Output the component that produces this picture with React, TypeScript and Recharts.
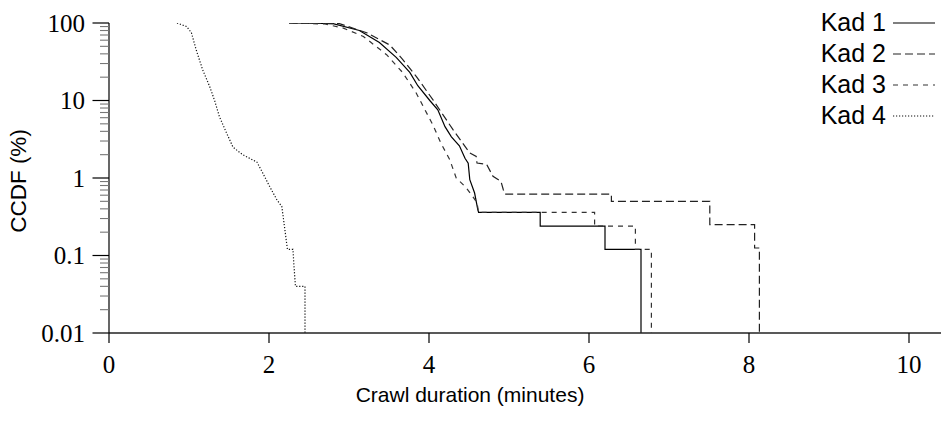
import React from 'react';
import { LineChart, Line, XAxis, YAxis } from 'recharts';

// Crawl duration (minutes) vs. CCDF (%) for four Kademlia crawls
const kad1Minutes = [2.25, 2.5, 2.8, 3.13, 3.38, 3.59, 3.76, 3.86, 4.01, 4.11, 4.2, 4.28, 4.38, 4.45, 4.49, 4.51, 4.57, 4.61, 4.62, 5.39, 5.39, 6.2, 6.2, 6.65, 6.65];
const kad1Ccdf = [100, 99.7, 98, 80, 56, 36, 23, 15.5, 10, 7.6, 4.6, 3.4, 2.6, 1.8, 1.55, 0.95, 0.64, 0.39, 0.36, 0.36, 0.24, 0.24, 0.12, 0.12, 0.01];

const kad2Minutes = [2.25, 2.5, 2.88, 3.22, 3.51, 3.67, 3.84, 4.05, 4.3, 4.51, 4.59, 4.6, 4.72, 4.8, 4.9, 4.93, 4.95, 6.28, 6.28, 7.51, 7.51, 8.07, 8.07, 8.13, 8.13];
const kad2Ccdf = [100, 99.8, 98, 75, 52, 34, 20.5, 10.2, 4.2, 2.1, 1.9, 1.56, 1.5, 1.05, 0.9, 0.7, 0.62, 0.62, 0.5, 0.5, 0.25, 0.25, 0.125, 0.125, 0.01];

const kad3Minutes = [2.3, 2.7, 2.93, 3.18, 3.47, 3.67, 3.84, 4.05, 4.15, 4.26, 4.34, 4.46, 4.53, 4.6, 4.62, 6.07, 6.07, 6.58, 6.58, 6.78, 6.78];
const kad3Ccdf = [100, 97, 86, 67, 39, 23, 12.5, 4.8, 2.8, 1.72, 1.0, 0.76, 0.61, 0.48, 0.36, 0.36, 0.24, 0.24, 0.12, 0.12, 0.01];

const kad4Minutes = [0.85, 0.97, 1.03, 1.09, 1.17, 1.26, 1.32, 1.38, 1.47, 1.55, 1.67, 1.85, 1.92, 2.01, 2.1, 2.16, 2.2, 2.23, 2.3, 2.31, 2.33, 2.45, 2.45];
const kad4Ccdf = [100, 90, 75, 45, 25, 15, 10, 6.2, 3.8, 2.5, 2.0, 1.6, 1.17, 0.77, 0.52, 0.43, 0.21, 0.12, 0.12, 0.08, 0.04, 0.04, 0.01];

const seriesNames = ['Kad 1', 'Kad 2', 'Kad 3', 'Kad 4'];
const xTicks = [0, 2, 4, 6, 8, 10];
const yMajorTicks = [0.01, 0.1, 1, 10, 100];
const yTickLabels = ['0.01', '0.1', '1', '10', '100'];

const toPoints = (xs: number[], ys: number[]) => xs.map((x, i) => ({ x, y: ys[i] }));

const seriesData = [
  toPoints(kad1Minutes, kad1Ccdf),
  toPoints(kad2Minutes, kad2Ccdf),
  toPoints(kad3Minutes, kad3Ccdf),
  toPoints(kad4Minutes, kad4Ccdf),
];

const seriesStyles = [
  { stroke: '#000', dash: undefined as string | undefined, width: 1.2 },
  { stroke: '#222', dash: '8 4', width: 1.2 },
  { stroke: '#333', dash: '5 5', width: 1.2 },
  { stroke: '#111', dash: '1.2 1.8', width: 1.2 },
];

// Log axis ticks: majors at powers of ten, minors at 2..9 of each decade
const yAllTicks: number[] = [];
for (let d = -2; d <= 2; d++) {
  const base = Math.pow(10, d);
  yAllTicks.push(base);
  if (d < 2) {
    for (let m = 2; m <= 9; m++) yAllTicks.push(+(m * base).toPrecision(3));
  }
}

const SERIF = '"Liberation Serif", "DejaVu Serif", serif';
const SANS = '"Liberation Sans", Arial, sans-serif';

const YTick = (props: any) => {
  const { x, y, payload } = props;
  const v = payload.value as number;
  const idx = yMajorTicks.findIndex((m) => Math.abs(m - v) / m < 1e-6);
  if (idx >= 0) {
    return (
      <g>
        <line x1={x - 16.5} x2={x} y1={y} y2={y} stroke="#000" strokeWidth={1.2} />
        <text x={x - 24} y={y} textAnchor="end" dominantBaseline="central" fontFamily={SERIF} fontSize={25} fill="#000">
          {yTickLabels[idx]}
        </text>
      </g>
    );
  }
  return <line x1={x - 9} x2={x} y1={y} y2={y} stroke="#777" strokeWidth={1.1} />;
};

const XTick = (props: any) => {
  const { x, y, payload } = props;
  return (
    <g>
      <line x1={x} x2={x} y1={y} y2={y + 10} stroke="#000" strokeWidth={1.2} />
      <text x={x} y={y + 31} textAnchor="middle" dominantBaseline="central" fontFamily={SERIF} fontSize={25} fill="#000">
        {payload.value}
      </text>
    </g>
  );
};

const YLabel = (props: any) => {
  const vb = props.viewBox || {};
  const cx = (vb.x ?? 0) + 18;
  const cy = (vb.y ?? 0) + (vb.height ?? 0) / 2 + 3;
  return (
    <text x={cx} y={cy} transform={`rotate(-90 ${cx} ${cy})`} textAnchor="middle" dominantBaseline="central" fontFamily={SANS} fontSize={22.5} fill="#000">
      CCDF (%)
    </text>
  );
};

const XLabel = (props: any) => {
  const vb = props.viewBox || {};
  const cx = 470;
  const cy = (vb.y ?? 0) + 61;
  return (
    <text x={cx} y={cy} textAnchor="middle" dominantBaseline="central" fontFamily={SANS} fontSize={21} fill="#000">
      Crawl duration (minutes)
    </text>
  );
};

const LegendBox = () => (
  <div style={{ position: 'absolute', left: 760, top: 7, width: 181 }}>
    {seriesNames.map((name, i) => (
      <div key={name} style={{ display: 'flex', alignItems: 'center', justifyContent: 'flex-end', height: 31, paddingRight: 5 }}>
        <span style={{ fontFamily: SANS, fontSize: 25, color: '#000', lineHeight: '31px' }}>{name}</span>
        <svg width={43} height={10} style={{ marginLeft: 7 }}>
          <line
            x1={0}
            x2={42}
            y1={5}
            y2={5}
            stroke={seriesStyles[i].stroke}
            strokeWidth={seriesStyles[i].width}
            strokeDasharray={seriesStyles[i].dash}
          />
        </svg>
      </div>
    ))}
  </div>
);

export default function App() {
  return (
    <div style={{ position: 'absolute', left: 0, top: 0, width: 941, height: 424, background: '#fff' }}>
      <LineChart width={941} height={424} data={seriesData[0]} margin={{ top: 23, right: 0, bottom: 0, left: 0 }}>
        <XAxis
          dataKey="x"
          type="number"
          domain={[0, 10.4]}
          ticks={xTicks}
          interval={0}
          tickSize={0}
          tickMargin={0}
          tick={<XTick />}
          axisLine={{ stroke: '#222', strokeWidth: 1.6 }}
          allowDataOverflow
          height={91}
          label={<XLabel />}
        />
        <YAxis
          dataKey="y"
          type="number"
          scale="log"
          domain={[0.01, 100]}
          ticks={yAllTicks}
          interval={0}
          tickSize={0}
          tickMargin={0}
          tick={<YTick />}
          axisLine={{ stroke: '#000', strokeWidth: 1.2 }}
          allowDataOverflow
          width={109}
          label={<YLabel />}
        />
        {seriesData.map((d, i) => (
          <Line
            key={seriesNames[i]}
            data={d}
            dataKey="y"
            name={seriesNames[i]}
            type="linear"
            stroke={seriesStyles[i].stroke}
            strokeWidth={seriesStyles[i].width}
            strokeDasharray={seriesStyles[i].dash}
            dot={false}
            activeDot={false}
            isAnimationActive={false}
          />
        ))}
      </LineChart>
      <LegendBox />
    </div>
  );
}
